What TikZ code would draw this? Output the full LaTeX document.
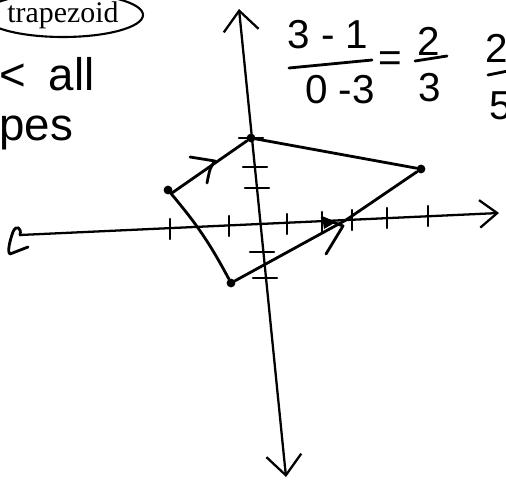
\documentclass[tikz,border=0pt]{standalone}
\usepackage{fontspec}
\newfontfamily\handfont{Liberation Sans}
\newfontfamily\printfont{Liberation Serif}
\usetikzlibrary{positioning,arrows.meta,shapes.geometric}

\begin{document}
\begin{tikzpicture}[
    x=0.02cm, y=-0.02cm,
    pen/.style={line width=1.6pt, line cap=round, line join=round},
    axis/.style={line width=1.3pt, line cap=round},
    twoway/.style={{Straight Barb[length=4mm, width=7mm]}-{Straight Barb[length=4mm, width=7mm]}},
    oneway/.style={-{Straight Barb[length=3.5mm, width=5.5mm]}},
    tickmark/.style={line width=1.4pt, line cap=round},
    vertex/.style={circle, fill, inner sep=0pt, minimum size=5pt},
    hand/.style={font=\handfont\fontsize{23}{26}\selectfont, inner sep=0pt},
    bighand/.style={font=\handfont\fontsize{26}{30}\selectfont, inner sep=0pt},
    tag/.style={draw, ellipse, line width=1.2pt, inner sep=0pt, minimum width=3.2cm,
                minimum height=0.88cm, font=\printfont\fontsize{17}{19}\selectfont}
]
\clip (0,0) rectangle (506,487);

% notes at the top
\node[tag] (tag) at (63,15) {trapezoid};
\node[bighand, anchor=base west] (all) at (-1,90) {<\hspace{0.5em}all};
\node[bighand, anchor=base west] (pes) at (-1,140) {pes};

% slope work
\node[hand] (n1) at (328,35) {3 - 1};
\node[hand] (d1) at (340,90) {0 -3};
\draw[pen] (289,68) -- (372,60);
\node[hand] (eq) at (390,62) {=};
\node[hand] (n2) at (429,41) {2};
\node[hand] (d2) at (430,88) {3};
\draw[pen] (415,61) -- (447,56);
\node[hand] (n3) at (497,48) {2};
\node[hand] (d3) at (501,106) {5};
\draw[pen] (488,75) -- (508,71);

% axes
\coordinate (xl) at (20,235);
\coordinate (xr) at (499,213);
\coordinate (yt) at (239,9);
\coordinate (yb) at (286,477);
\draw[axis, twoway] (yb) -- (yt);
\draw[axis, oneway] (xl) -- (xr);
\draw[pen] (xl) .. controls (22,228) and (16,224) .. (13,232)
           .. controls (10,240) and (7,252) .. (10,254) -- (28,247);

\foreach \x/\y in {170/229, 229/226, 287/224, 322/222, 352/220, 387/218, 428/216}
  \draw[tickmark] (\x,\y-10) -- (\x,\y+10);
\foreach \y/\x in {138/251, 167/255, 188/257, 252/262, 278/265}
  \draw[tickmark] (\x-12,\y) -- (\x+12,\y);

% the quadrilateral
\node[vertex] (A) at (251,138) {};
\node[vertex] (B) at (421,169) {};
\coordinate (C) at (346,220);
\node[vertex] (D) at (231,283) {};
\node[vertex] (L) at (168,190) {};
\draw[pen] (A) -- (B) -- (C) -- (D) to[bend right=6] (L) -- (A);

% parallel marks
\draw[pen] (190,157) -- (215,161) .. controls (210,168) .. (207,183);
\draw[pen] (322,218) -- (343,226) -- (326,254);
\fill (322,216) -- (336,222) -- (324,229) -- cycle;
\end{tikzpicture}
\end{document}
